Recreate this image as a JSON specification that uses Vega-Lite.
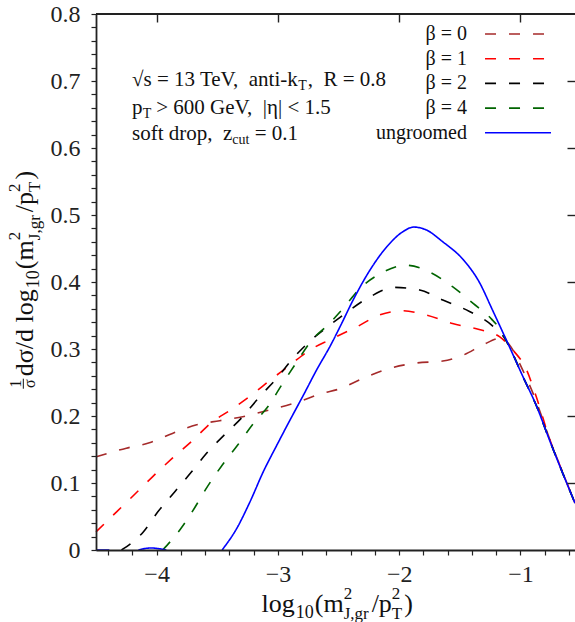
{
  "$schema": "https://vega.github.io/schema/vega-lite/v6.json",
  "width": 479,
  "height": 536,
  "autosize": "none",
  "padding": {"left": 96, "top": 14, "right": 0, "bottom": 72},
  "background": "white",
  "config": {"view": {"stroke": null}, "legend": {"padding": 0}, "text": {"font": "Liberation Serif", "color": "#111"}},
  "datasets": {
    "curves": [
      {"series": "β = 0", "x": -4.5, "y": 0.139}, {"series": "β = 0", "x": -4.25, "y": 0.152}, {"series": "β = 0", "x": -4.06, "y": 0.16}, {"series": "β = 0", "x": -3.87, "y": 0.174}, {"series": "β = 0", "x": -3.67, "y": 0.187}, {"series": "β = 0", "x": -3.48, "y": 0.193}, {"series": "β = 0", "x": -3.29, "y": 0.199}, {"series": "β = 0", "x": -3.07, "y": 0.209}, {"series": "β = 0", "x": -2.85, "y": 0.22}, {"series": "β = 0", "x": -2.63, "y": 0.234}, {"series": "β = 0", "x": -2.5, "y": 0.24}, {"series": "β = 0", "x": -2.3, "y": 0.256}, {"series": "β = 0", "x": -2.08, "y": 0.271}, {"series": "β = 0", "x": -1.86, "y": 0.279}, {"series": "β = 0", "x": -1.64, "y": 0.282}, {"series": "β = 0", "x": -1.47, "y": 0.291}, {"series": "β = 0", "x": -1.31, "y": 0.306}, {"series": "β = 0", "x": -1.17, "y": 0.316}, {"series": "β = 0", "x": -1.09, "y": 0.306}, {"series": "β = 0", "x": -0.98, "y": 0.268}, {"series": "β = 0", "x": -0.87, "y": 0.222}, {"series": "β = 0", "x": -0.76, "y": 0.166}, {"series": "β = 0", "x": -0.65, "y": 0.115}, {"series": "β = 0", "x": -0.55, "y": 0.07},
      {"series": "β = 1", "x": -4.5, "y": 0.027}, {"series": "β = 1", "x": -4.33, "y": 0.057}, {"series": "β = 1", "x": -4.17, "y": 0.085}, {"series": "β = 1", "x": -4.03, "y": 0.11}, {"series": "β = 1", "x": -3.87, "y": 0.137}, {"series": "β = 1", "x": -3.7, "y": 0.164}, {"series": "β = 1", "x": -3.55, "y": 0.19}, {"series": "β = 1", "x": -3.39, "y": 0.209}, {"series": "β = 1", "x": -3.22, "y": 0.231}, {"series": "β = 1", "x": -3.06, "y": 0.254}, {"series": "β = 1", "x": -2.9, "y": 0.276}, {"series": "β = 1", "x": -2.75, "y": 0.297}, {"series": "β = 1", "x": -2.57, "y": 0.314}, {"series": "β = 1", "x": -2.35, "y": 0.333}, {"series": "β = 1", "x": -2.16, "y": 0.351}, {"series": "β = 1", "x": -1.97, "y": 0.357}, {"series": "β = 1", "x": -1.78, "y": 0.351}, {"series": "β = 1", "x": -1.56, "y": 0.338}, {"series": "β = 1", "x": -1.34, "y": 0.329}, {"series": "β = 1", "x": -1.17, "y": 0.318}, {"series": "β = 1", "x": -1.06, "y": 0.298}, {"series": "β = 1", "x": -0.95, "y": 0.269}, {"series": "β = 1", "x": -0.87, "y": 0.229}, {"series": "β = 1", "x": -0.76, "y": 0.166}, {"series": "β = 1", "x": -0.65, "y": 0.115}, {"series": "β = 1", "x": -0.55, "y": 0.07},
      {"series": "β = 2", "x": -4.29, "y": 0.0}, {"series": "β = 2", "x": -4.11, "y": 0.027}, {"series": "β = 2", "x": -3.99, "y": 0.057}, {"series": "β = 2", "x": -3.85, "y": 0.087}, {"series": "β = 2", "x": -3.71, "y": 0.117}, {"series": "β = 2", "x": -3.59, "y": 0.144}, {"series": "β = 2", "x": -3.44, "y": 0.172}, {"series": "β = 2", "x": -3.29, "y": 0.199}, {"series": "β = 2", "x": -3.15, "y": 0.229}, {"series": "β = 2", "x": -3.01, "y": 0.256}, {"series": "β = 2", "x": -2.88, "y": 0.285}, {"series": "β = 2", "x": -2.74, "y": 0.311}, {"series": "β = 2", "x": -2.57, "y": 0.336}, {"series": "β = 2", "x": -2.46, "y": 0.351}, {"series": "β = 2", "x": -2.24, "y": 0.378}, {"series": "β = 2", "x": -2.04, "y": 0.392}, {"series": "β = 2", "x": -1.83, "y": 0.388}, {"series": "β = 2", "x": -1.64, "y": 0.373}, {"series": "β = 2", "x": -1.42, "y": 0.356}, {"series": "β = 2", "x": -1.24, "y": 0.336}, {"series": "β = 2", "x": -1.12, "y": 0.313}, {"series": "β = 2", "x": -1.09, "y": 0.303}, {"series": "β = 2", "x": -0.98, "y": 0.259}, {"series": "β = 2", "x": -0.87, "y": 0.216}, {"series": "β = 2", "x": -0.76, "y": 0.164}, {"series": "β = 2", "x": -0.65, "y": 0.114}, {"series": "β = 2", "x": -0.55, "y": 0.07},
      {"series": "β = 4", "x": -3.95, "y": 0.0}, {"series": "β = 4", "x": -3.8, "y": 0.032}, {"series": "β = 4", "x": -3.69, "y": 0.062}, {"series": "β = 4", "x": -3.58, "y": 0.095}, {"series": "β = 4", "x": -3.47, "y": 0.124}, {"series": "β = 4", "x": -3.33, "y": 0.157}, {"series": "β = 4", "x": -3.21, "y": 0.187}, {"series": "β = 4", "x": -3.07, "y": 0.217}, {"series": "β = 4", "x": -2.97, "y": 0.246}, {"series": "β = 4", "x": -2.85, "y": 0.279}, {"series": "β = 4", "x": -2.73, "y": 0.311}, {"series": "β = 4", "x": -2.57, "y": 0.339}, {"series": "β = 4", "x": -2.46, "y": 0.361}, {"series": "β = 4", "x": -2.32, "y": 0.391}, {"series": "β = 4", "x": -2.16, "y": 0.412}, {"series": "β = 4", "x": -1.94, "y": 0.425}, {"series": "β = 4", "x": -1.75, "y": 0.415}, {"series": "β = 4", "x": -1.56, "y": 0.393}, {"series": "β = 4", "x": -1.39, "y": 0.368}, {"series": "β = 4", "x": -1.24, "y": 0.345}, {"series": "β = 4", "x": -1.17, "y": 0.33}, {"series": "β = 4", "x": -1.09, "y": 0.303}, {"series": "β = 4", "x": -0.98, "y": 0.259}, {"series": "β = 4", "x": -0.87, "y": 0.216}, {"series": "β = 4", "x": -0.76, "y": 0.164}, {"series": "β = 4", "x": -0.65, "y": 0.114}, {"series": "β = 4", "x": -0.55, "y": 0.07},
      {"series": "ungroomed", "x": -4.5, "y": 0.0}, {"series": "ungroomed", "x": -4.39, "y": 0.0}, {"series": "ungroomed", "x": -4.3, "y": null}, {"series": "ungroomed", "x": -4.15, "y": 0.0}, {"series": "ungroomed", "x": -4.05, "y": 0.003}, {"series": "ungroomed", "x": -3.92, "y": 0.0}, {"series": "ungroomed", "x": -3.7, "y": null}, {"series": "ungroomed", "x": -3.46, "y": 0.0}, {"series": "ungroomed", "x": -3.34, "y": 0.032}, {"series": "ungroomed", "x": -3.23, "y": 0.072}, {"series": "ungroomed", "x": -3.12, "y": 0.117}, {"series": "ungroomed", "x": -3.01, "y": 0.156}, {"series": "ungroomed", "x": -2.9, "y": 0.194}, {"series": "ungroomed", "x": -2.79, "y": 0.231}, {"series": "ungroomed", "x": -2.68, "y": 0.269}, {"series": "ungroomed", "x": -2.57, "y": 0.304}, {"series": "ungroomed", "x": -2.48, "y": 0.336}, {"series": "ungroomed", "x": -2.38, "y": 0.373}, {"series": "ungroomed", "x": -2.24, "y": 0.418}, {"series": "ungroomed", "x": -2.1, "y": 0.453}, {"series": "ungroomed", "x": -1.97, "y": 0.475}, {"series": "ungroomed", "x": -1.88, "y": 0.482}, {"series": "ungroomed", "x": -1.78, "y": 0.478}, {"series": "ungroomed", "x": -1.64, "y": 0.46}, {"series": "ungroomed", "x": -1.47, "y": 0.433}, {"series": "ungroomed", "x": -1.34, "y": 0.4}, {"series": "ungroomed", "x": -1.23, "y": 0.358}, {"series": "ungroomed", "x": -1.09, "y": 0.303}, {"series": "ungroomed", "x": -0.98, "y": 0.259}, {"series": "ungroomed", "x": -0.87, "y": 0.216}, {"series": "ungroomed", "x": -0.76, "y": 0.164}, {"series": "ungroomed", "x": -0.65, "y": 0.114}, {"series": "ungroomed", "x": -0.55, "y": 0.07}
    ]
  },
  "resolve": {"axis": {"x": "independent", "y": "independent"}},
  "layer": [
    {
      "data": {"name": "curves"},
      "transform": [{"filter": "datum.series !== 'ungroomed'"}],
      "mark": {"type": "line", "interpolate": "monotone", "strokeCap": "butt"},
      "encoding": {
        "x": {"field": "x", "type": "quantitative", "scale": {"domain": [-4.5, -0.55], "nice": false, "zero": false},
          "axis": {"orient": "bottom", "title": null, "zindex": 1, "values": [-4.4, -4.2, -4, -3.8, -3.6, -3.4, -3.2, -3, -2.8, -2.6, -2.4, -2.2, -2, -1.8, -1.6, -1.4, -1.2, -1, -0.8, -0.6],
            "labelExpr": "abs(datum.value - round(datum.value)) < 1e-6 ? format(datum.value, 'd') : ''",
            "ticks": true, "tickSize": 5, "tickColor": "#222", "tickWidth": 1.2, "grid": false,
            "labelPadding": 7, "labelFont": "Liberation Serif", "labelFontSize": 24, "labelColor": "#222", "labelFlush": false, "labelOverlap": false, "labelBound": false,
            "domain": true, "domainColor": "#222", "domainWidth": 1.8}},
        "y": {"field": "y", "type": "quantitative", "scale": {"domain": [0, 0.8], "nice": false, "zero": false},
          "axis": {"orient": "left", "title": null, "zindex": 1, "values": [0, 0.02, 0.04, 0.06, 0.08, 0.1, 0.12, 0.14, 0.16, 0.18, 0.2, 0.22, 0.24, 0.26, 0.28, 0.3, 0.32, 0.34, 0.36, 0.38, 0.4, 0.42, 0.44, 0.46, 0.48, 0.5, 0.52, 0.54, 0.56, 0.58, 0.6, 0.62, 0.64, 0.66, 0.68, 0.7, 0.72, 0.74, 0.76, 0.78, 0.8],
            "labelExpr": "abs(datum.value * 10 - round(datum.value * 10)) < 1e-6 ? (datum.value === 0 ? '0' : format(datum.value, '.1f')) : ''",
            "ticks": true, "tickSize": 5, "tickColor": "#222", "tickWidth": 1.2, "grid": false,
            "labelPadding": 11, "labelFont": "Liberation Serif", "labelFontSize": 24, "labelColor": "#222", "labelFlush": false, "labelOverlap": false, "labelBound": false,
            "domain": true, "domainColor": "#222", "domainWidth": 1.8}},
        "color": {"field": "series", "type": "nominal",
          "scale": {"domain": ["β = 0", "β = 1", "β = 2", "β = 4", "ungroomed"], "range": ["#a52a2a", "#ff0000", "#000000", "#006400", "#0000ff"]},
          "legend": {"orient": "none", "legendX": 412, "legendY": 10, "title": null, "symbolType": "M-5,0H5", "symbolSize": 174, "labelAlign": "right", "labelOffset": -61, "labelFont": "Liberation Serif", "labelFontSize": 20, "labelColor": "#111", "rowPadding": 4.7, "labelLimit": 300}},
        "strokeDash": {"field": "series", "type": "nominal",
          "scale": {"domain": ["β = 0", "β = 1", "β = 2", "β = 4", "ungroomed"], "range": [[11, 13], [11, 13], [11, 13], [11, 13], [1, 0]]}},
        "strokeWidth": {"field": "series", "type": "ordinal",
          "scale": {"domain": ["β = 0", "β = 1", "β = 2", "β = 4", "ungroomed"], "range": [1.6, 1.6, 1.6, 1.6, 2.6]}}
      }
    },
    {
      "data": {"name": "curves"},
      "transform": [{"filter": "datum.series === 'ungroomed'"}],
      "mark": {"type": "line", "interpolate": "monotone", "strokeCap": "butt", "invalid": "break-paths-show-domains"},
      "encoding": {
        "x": {"field": "x", "type": "quantitative", "scale": {"domain": [-4.5, -0.55], "nice": false, "zero": false},
          "axis": {"orient": "top", "title": null, "zindex": 1, "domain": false, "labels": false, "values": [-4, -3, -2, -1],
            "ticks": true, "tickSize": -8, "tickColor": "#222", "tickWidth": 1.4, "grid": false}},
        "y": {"field": "y", "type": "quantitative", "scale": {"domain": [0, 0.8], "nice": false, "zero": false},
          "axis": {"orient": "right", "title": null, "zindex": 1, "domain": false, "labels": false, "values": [0.1, 0.2, 0.3, 0.4, 0.5, 0.6, 0.7],
            "ticks": true, "tickSize": -8, "tickColor": "#222", "tickWidth": 1.4, "grid": false}},
        "color": {"field": "series", "type": "nominal",
          "scale": {"domain": ["β = 0", "β = 1", "β = 2", "β = 4", "ungroomed"], "range": ["#a52a2a", "#ff0000", "#000000", "#006400", "#0000ff"]}},
        "strokeDash": {"field": "series", "type": "nominal",
          "scale": {"domain": ["β = 0", "β = 1", "β = 2", "β = 4", "ungroomed"], "range": [[11, 13], [11, 13], [11, 13], [11, 13], [1, 0]]}},
        "strokeWidth": {"field": "series", "type": "ordinal",
          "scale": {"domain": ["β = 0", "β = 1", "β = 2", "β = 4", "ungroomed"], "range": [1.6, 1.6, 1.6, 1.6, 2.6]}}
      }
    },
    {"data": {"values": [{}]}, "mark": {"type": "rule", "color": "#222", "strokeWidth": 1.8},
      "encoding": {"x": {"datum": -4.5, "type": "quantitative", "axis": null}, "x2": {"datum": -0.55}, "y": {"datum": 0.8, "type": "quantitative", "axis": null}}},
    {"data": {"values": [{}]}, "mark": {"type": "text", "text": "√s = 13 TeV,\u2002anti-k", "fontSize": 21, "align": "left", "baseline": "alphabetic"},
      "encoding": {"x": {"datum": -4.2033, "type": "quantitative", "axis": null}, "y": {"datum": 0.6923, "type": "quantitative", "axis": null}}},
    {"data": {"values": [{}]}, "mark": {"type": "text", "text": "T", "fontSize": 14, "align": "left", "baseline": "alphabetic"},
      "encoding": {"x": {"datum": -2.832, "type": "quantitative", "axis": null}, "y": {"datum": 0.6863, "type": "quantitative", "axis": null}}},
    {"data": {"values": [{}]}, "mark": {"type": "text", "text": ",\u2002R = 0.8", "fontSize": 21, "align": "left", "baseline": "alphabetic"},
      "encoding": {"x": {"datum": -2.754, "type": "quantitative", "axis": null}, "y": {"datum": 0.6923, "type": "quantitative", "axis": null}}},
    {"data": {"values": [{}]}, "mark": {"type": "text", "text": "p", "fontSize": 21, "align": "left", "baseline": "alphabetic"},
      "encoding": {"x": {"datum": -4.2033, "type": "quantitative", "axis": null}, "y": {"datum": 0.6511, "type": "quantitative", "axis": null}}},
    {"data": {"values": [{}]}, "mark": {"type": "text", "text": "T", "fontSize": 14, "align": "left", "baseline": "alphabetic"},
      "encoding": {"x": {"datum": -4.1142, "type": "quantitative", "axis": null}, "y": {"datum": 0.6452, "type": "quantitative", "axis": null}}},
    {"data": {"values": [{}]}, "mark": {"type": "text", "text": "> 600 GeV,\u2002|η| < 1.5", "fontSize": 21, "align": "left", "baseline": "alphabetic"},
      "encoding": {"x": {"datum": -4.0029, "type": "quantitative", "axis": null}, "y": {"datum": 0.6511, "type": "quantitative", "axis": null}}},
    {"data": {"values": [{}]}, "mark": {"type": "text", "text": "soft drop,\u2002z", "fontSize": 21, "align": "left", "baseline": "alphabetic"},
      "encoding": {"x": {"datum": -4.2033, "type": "quantitative", "axis": null}, "y": {"datum": 0.6123, "type": "quantitative", "axis": null}}},
    {"data": {"values": [{}]}, "mark": {"type": "text", "text": "cut", "fontSize": 14, "align": "left", "baseline": "alphabetic"},
      "encoding": {"x": {"datum": -3.3764, "type": "quantitative", "axis": null}, "y": {"datum": 0.6063, "type": "quantitative", "axis": null}}},
    {"data": {"values": [{}]}, "mark": {"type": "text", "text": "= 0.1", "fontSize": 21, "align": "left", "baseline": "alphabetic"},
      "encoding": {"x": {"datum": -3.1909, "type": "quantitative", "axis": null}, "y": {"datum": 0.6123, "type": "quantitative", "axis": null}}},
    {"data": {"values": [{}]}, "mark": {"type": "text", "text": "log", "fontSize": 26, "align": "left", "baseline": "alphabetic"},
      "encoding": {"x": {"datum": -3.1348, "type": "quantitative", "axis": null}, "y": {"datum": -0.0926, "type": "quantitative", "axis": null}}},
    {"data": {"values": [{}]}, "mark": {"type": "text", "text": "10", "fontSize": 18, "align": "left", "baseline": "alphabetic"},
      "encoding": {"x": {"datum": -2.8528, "type": "quantitative", "axis": null}, "y": {"datum": -0.1015, "type": "quantitative", "axis": null}}},
    {"data": {"values": [{}]}, "mark": {"type": "text", "text": "(m", "fontSize": 26, "align": "left", "baseline": "alphabetic"},
      "encoding": {"x": {"datum": -2.6962, "type": "quantitative", "axis": null}, "y": {"datum": -0.0926, "type": "quantitative", "axis": null}}},
    {"data": {"values": [{}]}, "mark": {"type": "text", "text": "2", "fontSize": 17, "align": "left", "baseline": "alphabetic"},
      "encoding": {"x": {"datum": -2.4579, "type": "quantitative", "axis": null}, "y": {"datum": -0.0732, "type": "quantitative", "axis": null}}},
    {"data": {"values": [{}]}, "mark": {"type": "text", "text": "J,gr", "fontSize": 17, "align": "left", "baseline": "alphabetic"},
      "encoding": {"x": {"datum": -2.4579, "type": "quantitative", "axis": null}, "y": {"datum": -0.1025, "type": "quantitative", "axis": null}}},
    {"data": {"values": [{}]}, "mark": {"type": "text", "text": "/p", "fontSize": 26, "align": "left", "baseline": "alphabetic"},
      "encoding": {"x": {"datum": -2.2271, "type": "quantitative", "axis": null}, "y": {"datum": -0.0926, "type": "quantitative", "axis": null}}},
    {"data": {"values": [{}]}, "mark": {"type": "text", "text": "2", "fontSize": 17, "align": "left", "baseline": "alphabetic"},
      "encoding": {"x": {"datum": -2.0606, "type": "quantitative", "axis": null}, "y": {"datum": -0.0732, "type": "quantitative", "axis": null}}},
    {"data": {"values": [{}]}, "mark": {"type": "text", "text": "T", "fontSize": 17, "align": "left", "baseline": "alphabetic"},
      "encoding": {"x": {"datum": -2.0606, "type": "quantitative", "axis": null}, "y": {"datum": -0.1025, "type": "quantitative", "axis": null}}},
    {"data": {"values": [{}]}, "mark": {"type": "text", "text": ")", "fontSize": 26, "align": "left", "baseline": "alphabetic"},
      "encoding": {"x": {"datum": -1.9575, "type": "quantitative", "axis": null}, "y": {"datum": -0.0926, "type": "quantitative", "axis": null}}},
    {"data": {"values": [{}]}, "mark": {"type": "text", "text": "1", "fontSize": 16, "align": "center", "baseline": "alphabetic", "angle": 270},
      "encoding": {"x": {"datum": -5.1199, "type": "quantitative", "axis": null}, "y": {"datum": 0.2482, "type": "quantitative", "axis": null}}},
    {"data": {"values": [{}]}, "mark": {"type": "text", "text": "σ", "fontSize": 16, "align": "center", "baseline": "alphabetic", "angle": 270},
      "encoding": {"x": {"datum": -5.0004, "type": "quantitative", "axis": null}, "y": {"datum": 0.2482, "type": "quantitative", "axis": null}}},
    {"data": {"values": [{}]}, "mark": {"type": "rule", "color": "#111", "strokeWidth": 1},
      "encoding": {"x": {"datum": -5.0993, "type": "quantitative", "axis": null}, "y": {"datum": 0.2407, "type": "quantitative", "axis": null}, "y2": {"datum": 0.2557}}},
    {"data": {"values": [{}]}, "mark": {"type": "text", "text": "dσ/d log", "fontSize": 26, "align": "left", "baseline": "alphabetic", "angle": 270},
      "encoding": {"x": {"datum": -5.0169, "type": "quantitative", "axis": null}, "y": {"datum": 0.2594, "type": "quantitative", "axis": null}}},
    {"data": {"values": [{}]}, "mark": {"type": "text", "text": "10", "fontSize": 18, "align": "left", "baseline": "alphabetic", "angle": 270},
      "encoding": {"x": {"datum": -4.9674, "type": "quantitative", "axis": null}, "y": {"datum": 0.3908, "type": "quantitative", "axis": null}}},
    {"data": {"values": [{}]}, "mark": {"type": "text", "text": "(m", "fontSize": 26, "align": "left", "baseline": "alphabetic", "angle": 270},
      "encoding": {"x": {"datum": -5.0169, "type": "quantitative", "axis": null}, "y": {"datum": 0.4192, "type": "quantitative", "axis": null}}},
    {"data": {"values": [{}]}, "mark": {"type": "text", "text": "2", "fontSize": 17, "align": "left", "baseline": "alphabetic", "angle": 270},
      "encoding": {"x": {"datum": -5.125, "type": "quantitative", "axis": null}, "y": {"datum": 0.4624, "type": "quantitative", "axis": null}}},
    {"data": {"values": [{}]}, "mark": {"type": "text", "text": "J,gr", "fontSize": 17, "align": "left", "baseline": "alphabetic", "angle": 270},
      "encoding": {"x": {"datum": -4.96, "type": "quantitative", "axis": null}, "y": {"datum": 0.4624, "type": "quantitative", "axis": null}}},
    {"data": {"values": [{}]}, "mark": {"type": "text", "text": "/p", "fontSize": 26, "align": "left", "baseline": "alphabetic", "angle": 270},
      "encoding": {"x": {"datum": -5.0169, "type": "quantitative", "axis": null}, "y": {"datum": 0.5042, "type": "quantitative", "axis": null}}},
    {"data": {"values": [{}]}, "mark": {"type": "text", "text": "2", "fontSize": 17, "align": "left", "baseline": "alphabetic", "angle": 270},
      "encoding": {"x": {"datum": -5.125, "type": "quantitative", "axis": null}, "y": {"datum": 0.5343, "type": "quantitative", "axis": null}}},
    {"data": {"values": [{}]}, "mark": {"type": "text", "text": "T", "fontSize": 17, "align": "left", "baseline": "alphabetic", "angle": 270},
      "encoding": {"x": {"datum": -4.96, "type": "quantitative", "axis": null}, "y": {"datum": 0.5343, "type": "quantitative", "axis": null}}},
    {"data": {"values": [{}]}, "mark": {"type": "text", "text": ")", "fontSize": 26, "align": "left", "baseline": "alphabetic", "angle": 270},
      "encoding": {"x": {"datum": -5.0169, "type": "quantitative", "axis": null}, "y": {"datum": 0.553, "type": "quantitative", "axis": null}}}
  ]
}
